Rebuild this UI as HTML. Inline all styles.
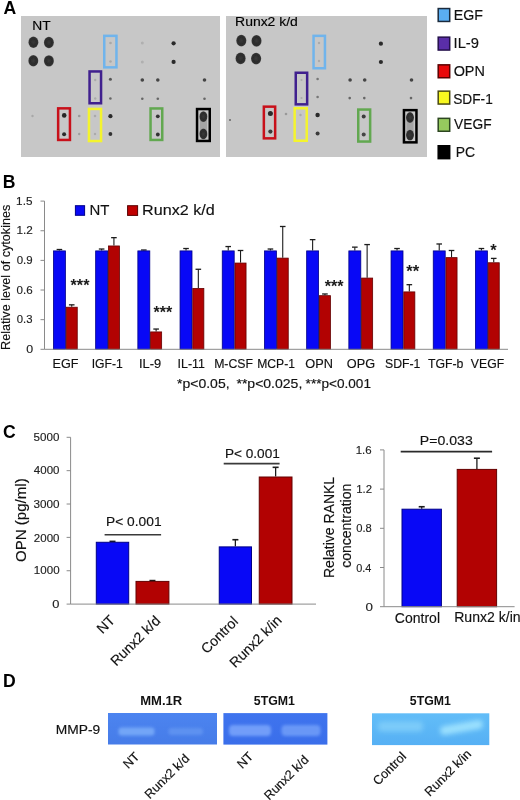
<!DOCTYPE html>
<html><head><meta charset="utf-8"><style>
html,body{margin:0;padding:0;background:#fff;}
body{width:520px;height:800px;overflow:hidden;}
svg{display:block;will-change:transform;}
text{font-family:"Liberation Sans", sans-serif;}
</style></head><body>
<svg width="520" height="800" viewBox="0 0 520 800">
<defs>
<filter id="bl" x="-50%" y="-50%" width="200%" height="200%"><feGaussianBlur stdDeviation="0.7"/></filter>
<filter id="bl2" x="-50%" y="-100%" width="200%" height="300%"><feGaussianBlur stdDeviation="1.6"/></filter>
<filter id="bl3" x="-50%" y="-100%" width="200%" height="300%"><feGaussianBlur stdDeviation="2.4"/></filter>
<radialGradient id="sg"><stop offset="0" stop-color="#3a3a3a"/><stop offset="0.55" stop-color="#2c2c2c"/><stop offset="0.85" stop-color="#303030"/><stop offset="1" stop-color="#555"/></radialGradient>
<linearGradient id="g1" x1="0" y1="0" x2="0" y2="1"><stop offset="0" stop-color="#4c84f0"/><stop offset="1" stop-color="#467ce8"/></linearGradient>
<linearGradient id="g2" x1="0" y1="0" x2="0" y2="1"><stop offset="0" stop-color="#3f74ee"/><stop offset="1" stop-color="#3a6eea"/></linearGradient>
<linearGradient id="g3" x1="0" y1="0" x2="0" y2="1"><stop offset="0" stop-color="#62bdf8"/><stop offset="1" stop-color="#56b0f4"/></linearGradient>
</defs>
<rect width="520" height="800" fill="#fff"/>
<text x="3.49" y="13.90" font-size="17.60" text-anchor="start" font-weight="bold" fill="#000" xml:space="preserve">A</text>
<rect x="21" y="16" width="199" height="141" fill="#c7c7c7"/>
<rect x="226" y="16" width="201" height="141" fill="#c7c7c7"/>
<text x="32.24" y="29.64" font-size="13.20" text-anchor="start" font-weight="normal" fill="#000" stroke="#000" stroke-width="0.15" textLength="18.38" lengthAdjust="spacingAndGlyphs" xml:space="preserve">NT</text>
<text x="235.07" y="26.06" font-size="13.20" text-anchor="start" font-weight="normal" fill="#000" stroke="#000" stroke-width="0.15" textLength="62.79" lengthAdjust="spacingAndGlyphs" xml:space="preserve">Runx2 k/d</text>
<ellipse cx="33.4" cy="42.3" rx="5.0" ry="5.7" fill="url(#sg)" filter="url(#bl)"/>
<ellipse cx="48.9" cy="42.5" rx="5.0" ry="5.7" fill="url(#sg)" filter="url(#bl)"/>
<ellipse cx="33.3" cy="60.8" rx="5.0" ry="5.7" fill="url(#sg)" filter="url(#bl)"/>
<ellipse cx="48.9" cy="60.9" rx="5.0" ry="5.7" fill="url(#sg)" filter="url(#bl)"/>
<ellipse cx="241.3" cy="40.6" rx="5.1" ry="5.9" fill="url(#sg)" filter="url(#bl)"/>
<ellipse cx="256.5" cy="40.8" rx="5.1" ry="5.9" fill="url(#sg)" filter="url(#bl)"/>
<ellipse cx="240.6" cy="58.3" rx="5.1" ry="5.9" fill="url(#sg)" filter="url(#bl)"/>
<ellipse cx="256.1" cy="58.6" rx="5.1" ry="5.9" fill="url(#sg)" filter="url(#bl)"/>
<rect x="199.8" y="116.6" width="7.2" height="17.30000000000001" fill="#a6a6a6" filter="url(#bl)"/>
<ellipse cx="203.4" cy="116.6" rx="4.0" ry="5.4" fill="url(#sg)" filter="url(#bl)"/>
<ellipse cx="203.4" cy="133.9" rx="4.0" ry="5.4" fill="url(#sg)" filter="url(#bl)"/>
<rect x="406.4" y="117.5" width="7.2" height="17.599999999999994" fill="#a6a6a6" filter="url(#bl)"/>
<ellipse cx="410" cy="117.5" rx="4.0" ry="5.4" fill="url(#sg)" filter="url(#bl)"/>
<ellipse cx="410" cy="135.1" rx="4.0" ry="5.4" fill="url(#sg)" filter="url(#bl)"/>
<ellipse cx="64.2" cy="115.4" rx="2.3" ry="2.3" fill="#262626" opacity="1" filter="url(#bl)"/>
<ellipse cx="64.1" cy="134.2" rx="2.0" ry="2.0" fill="#2a2a2a" opacity="1" filter="url(#bl)"/>
<ellipse cx="157.8" cy="116.3" rx="1.9" ry="1.9" fill="#333" opacity="1" filter="url(#bl)"/>
<ellipse cx="157.8" cy="134.5" rx="1.9" ry="1.9" fill="#333" opacity="1" filter="url(#bl)"/>
<ellipse cx="110.4" cy="79.2" rx="1.5" ry="1.5" fill="#555" opacity="1" filter="url(#bl)"/>
<ellipse cx="110.4" cy="98.5" rx="1.3" ry="1.3" fill="#666" opacity="1" filter="url(#bl)"/>
<ellipse cx="110.4" cy="116.2" rx="2.1" ry="2.1" fill="#2a2a2a" opacity="1" filter="url(#bl)"/>
<ellipse cx="110.4" cy="134" rx="1.9" ry="1.9" fill="#333" opacity="1" filter="url(#bl)"/>
<ellipse cx="173.6" cy="43.3" rx="2.1" ry="2.1" fill="#2a2a2a" opacity="1" filter="url(#bl)"/>
<ellipse cx="173.6" cy="61.9" rx="2.1" ry="2.1" fill="#2a2a2a" opacity="1" filter="url(#bl)"/>
<ellipse cx="142.3" cy="80" rx="1.8" ry="1.8" fill="#444" opacity="1" filter="url(#bl)"/>
<ellipse cx="157.8" cy="80" rx="1.8" ry="1.8" fill="#444" opacity="1" filter="url(#bl)"/>
<ellipse cx="204.5" cy="80" rx="1.8" ry="1.8" fill="#444" opacity="1" filter="url(#bl)"/>
<ellipse cx="142.3" cy="98.7" rx="1.3" ry="1.3" fill="#666" opacity="1" filter="url(#bl)"/>
<ellipse cx="157.8" cy="98.7" rx="1.3" ry="1.3" fill="#666" opacity="1" filter="url(#bl)"/>
<ellipse cx="204.5" cy="98.7" rx="1.3" ry="1.3" fill="#666" opacity="1" filter="url(#bl)"/>
<ellipse cx="79.2" cy="116" rx="1.3" ry="1.3" fill="#9a9a9a" opacity="1" filter="url(#bl)"/>
<ellipse cx="79.2" cy="134" rx="1.2" ry="1.2" fill="#a0a0a0" opacity="1" filter="url(#bl)"/>
<ellipse cx="32.5" cy="116" rx="1.2" ry="1.2" fill="#a8a8a8" opacity="1" filter="url(#bl)"/>
<ellipse cx="142.3" cy="43" rx="1.5" ry="1.5" fill="#b0b0b0" opacity="1" filter="url(#bl)"/>
<ellipse cx="142.3" cy="62" rx="1.5" ry="1.5" fill="#b0b0b0" opacity="1" filter="url(#bl)"/>
<ellipse cx="110.5" cy="43" rx="1.3" ry="1.3" fill="#a8a8a8" opacity="1" filter="url(#bl)"/>
<ellipse cx="110.5" cy="61.5" rx="1.3" ry="1.3" fill="#a8a8a8" opacity="1" filter="url(#bl)"/>
<ellipse cx="95.2" cy="80" rx="1.2" ry="1.2" fill="#aaa" opacity="1" filter="url(#bl)"/>
<ellipse cx="95.2" cy="98.5" rx="1.2" ry="1.2" fill="#aaa" opacity="1" filter="url(#bl)"/>
<ellipse cx="95" cy="116" rx="1.3" ry="1.3" fill="#aaa" opacity="1" filter="url(#bl)"/>
<ellipse cx="95" cy="134" rx="1.2" ry="1.2" fill="#aaa" opacity="1" filter="url(#bl)"/>
<ellipse cx="270.4" cy="113.6" rx="2.5" ry="2.5" fill="#2a2a2a" opacity="1" filter="url(#bl)"/>
<ellipse cx="270.4" cy="131.6" rx="2.1" ry="2.1" fill="#3a3a3a" opacity="1" filter="url(#bl)"/>
<ellipse cx="363.7" cy="116.6" rx="2" ry="2" fill="#3a3a3a" opacity="1" filter="url(#bl)"/>
<ellipse cx="363.7" cy="134.5" rx="2" ry="2" fill="#444" opacity="1" filter="url(#bl)"/>
<ellipse cx="317.6" cy="79" rx="1.3" ry="1.3" fill="#777" opacity="1" filter="url(#bl)"/>
<ellipse cx="317.6" cy="97" rx="1.3" ry="1.3" fill="#777" opacity="1" filter="url(#bl)"/>
<ellipse cx="317.6" cy="115" rx="2.2" ry="2.2" fill="#2a2a2a" opacity="1" filter="url(#bl)"/>
<ellipse cx="317.6" cy="133.4" rx="2" ry="2" fill="#3a3a3a" opacity="1" filter="url(#bl)"/>
<ellipse cx="286" cy="114" rx="1.3" ry="1.3" fill="#999" opacity="1" filter="url(#bl)"/>
<ellipse cx="230" cy="120" rx="1" ry="1" fill="#666" opacity="1" filter="url(#bl)"/>
<ellipse cx="380.9" cy="43.7" rx="2.1" ry="2.1" fill="#2a2a2a" opacity="1" filter="url(#bl)"/>
<ellipse cx="380.9" cy="62" rx="2.1" ry="2.1" fill="#2a2a2a" opacity="1" filter="url(#bl)"/>
<ellipse cx="350.1" cy="80" rx="1.8" ry="1.8" fill="#444" opacity="1" filter="url(#bl)"/>
<ellipse cx="364.7" cy="80" rx="1.8" ry="1.8" fill="#444" opacity="1" filter="url(#bl)"/>
<ellipse cx="411.5" cy="80" rx="1.8" ry="1.8" fill="#444" opacity="1" filter="url(#bl)"/>
<ellipse cx="349.7" cy="98.1" rx="1.3" ry="1.3" fill="#666" opacity="1" filter="url(#bl)"/>
<ellipse cx="364.3" cy="98.1" rx="1.3" ry="1.3" fill="#666" opacity="1" filter="url(#bl)"/>
<ellipse cx="411" cy="98.1" rx="1.3" ry="1.3" fill="#666" opacity="1" filter="url(#bl)"/>
<ellipse cx="319" cy="43" rx="1.2" ry="1.2" fill="#aaa" opacity="1" filter="url(#bl)"/>
<ellipse cx="319" cy="61" rx="1.2" ry="1.2" fill="#aaa" opacity="1" filter="url(#bl)"/>
<ellipse cx="301.5" cy="80" rx="1.1" ry="1.1" fill="#aaa" opacity="1" filter="url(#bl)"/>
<ellipse cx="301.5" cy="98" rx="1.1" ry="1.1" fill="#aaa" opacity="1" filter="url(#bl)"/>
<ellipse cx="300.5" cy="115" rx="1.2" ry="1.2" fill="#aaa" opacity="1" filter="url(#bl)"/>
<rect x="104.25" y="35.85" width="12.20" height="31.50" fill="none" stroke="#70b4ec" stroke-width="2.5"/>
<rect x="89.55" y="71.45" width="11.50" height="31.80" fill="none" stroke="#40208e" stroke-width="2.5"/>
<rect x="58.15" y="108.35" width="11.80" height="31.60" fill="none" stroke="#c8101a" stroke-width="2.5"/>
<rect x="88.95" y="108.95" width="12.10" height="32.10" fill="none" stroke="#f4f42e" stroke-width="2.5"/>
<rect x="150.55" y="108.45" width="11.70" height="31.50" fill="none" stroke="#62a850" stroke-width="2.5"/>
<rect x="197.05" y="109.05" width="12.70" height="31.90" fill="none" stroke="#000" stroke-width="2.5"/>
<rect x="313.55" y="35.85" width="11.40" height="32.40" fill="none" stroke="#70b4ec" stroke-width="2.5"/>
<rect x="295.75" y="72.75" width="11.40" height="31.60" fill="none" stroke="#40208e" stroke-width="2.5"/>
<rect x="263.85" y="106.65" width="11.30" height="31.70" fill="none" stroke="#c8101a" stroke-width="2.5"/>
<rect x="294.65" y="108.25" width="12.10" height="32.50" fill="none" stroke="#f4f42e" stroke-width="2.5"/>
<rect x="358.25" y="109.55" width="11.90" height="32.00" fill="none" stroke="#62a850" stroke-width="2.5"/>
<rect x="403.95" y="110.15" width="12.50" height="32.20" fill="none" stroke="#000" stroke-width="2.5"/>
<rect x="438.2" y="8.55" width="11.5" height="12.9" fill="#5aaef2" stroke="#1a2a3c" stroke-width="1.5"/>
<text x="453.77" y="20.39" font-size="14.20" text-anchor="start" font-weight="normal" fill="#111" stroke="#111" stroke-width="0.15" textLength="29.16" lengthAdjust="spacingAndGlyphs" xml:space="preserve">EGF</text>
<rect x="438.2" y="37.15" width="11.5" height="12.9" fill="#5a2ea8" stroke="#24104a" stroke-width="1.5"/>
<text x="453.54" y="47.71" font-size="14.20" text-anchor="start" font-weight="normal" fill="#111" stroke="#111" stroke-width="0.15" textLength="25.41" lengthAdjust="spacingAndGlyphs" xml:space="preserve">IL-9</text>
<rect x="438.2" y="64.85" width="11.5" height="12.9" fill="#e8080a" stroke="#5a0000" stroke-width="1.5"/>
<text x="453.65" y="75.81" font-size="14.20" text-anchor="start" font-weight="normal" fill="#111" stroke="#111" stroke-width="0.15" textLength="31.27" lengthAdjust="spacingAndGlyphs" xml:space="preserve">OPN</text>
<rect x="438.2" y="91.15" width="11.5" height="12.9" fill="#f8f820" stroke="#4a4a10" stroke-width="1.5"/>
<text x="453.24" y="103.72" font-size="14.20" text-anchor="start" font-weight="normal" fill="#111" stroke="#111" stroke-width="0.15" textLength="39.55" lengthAdjust="spacingAndGlyphs" xml:space="preserve">SDF-1</text>
<rect x="438.2" y="118.35" width="11.5" height="12.9" fill="#96ca5e" stroke="#2c4620" stroke-width="1.5"/>
<text x="454.09" y="129.12" font-size="14.20" text-anchor="start" font-weight="normal" fill="#111" stroke="#111" stroke-width="0.15" textLength="37.52" lengthAdjust="spacingAndGlyphs" xml:space="preserve">VEGF</text>
<rect x="438.2" y="145.75" width="11.5" height="12.9" fill="#000" stroke="#000" stroke-width="1.5"/>
<text x="455.65" y="156.71" font-size="14.20" text-anchor="start" font-weight="normal" fill="#111" stroke="#111" stroke-width="0.15" textLength="19.40" lengthAdjust="spacingAndGlyphs" xml:space="preserve">PC</text>
<text x="2.64" y="187.75" font-size="17.60" text-anchor="start" font-weight="bold" fill="#000" xml:space="preserve">B</text>
<line x1="44.5" y1="201.10" x2="44.5" y2="349.30" stroke="#8a8a8a" stroke-width="1"/>
<line x1="40.5" y1="349.30" x2="44.5" y2="349.30" stroke="#8a8a8a" stroke-width="1"/>
<text x="33.18" y="352.84" font-size="11.50" text-anchor="end" font-weight="normal" fill="#222" stroke="#222" stroke-width="0.15" textLength="6.89" lengthAdjust="spacingAndGlyphs" xml:space="preserve">0</text>
<line x1="40.5" y1="319.66" x2="44.5" y2="319.66" stroke="#8a8a8a" stroke-width="1"/>
<text x="32.55" y="323.17" font-size="11.50" text-anchor="end" font-weight="normal" fill="#222" stroke="#222" stroke-width="0.15" textLength="15.74" lengthAdjust="spacingAndGlyphs" xml:space="preserve">0.3</text>
<line x1="40.5" y1="290.02" x2="44.5" y2="290.02" stroke="#8a8a8a" stroke-width="1"/>
<text x="32.66" y="294.05" font-size="11.50" text-anchor="end" font-weight="normal" fill="#222" stroke="#222" stroke-width="0.15" textLength="16.11" lengthAdjust="spacingAndGlyphs" xml:space="preserve">0.6</text>
<line x1="40.5" y1="260.38" x2="44.5" y2="260.38" stroke="#8a8a8a" stroke-width="1"/>
<text x="32.68" y="264.25" font-size="11.50" text-anchor="end" font-weight="normal" fill="#222" stroke="#222" stroke-width="0.15" textLength="15.93" lengthAdjust="spacingAndGlyphs" xml:space="preserve">0.9</text>
<line x1="40.5" y1="230.74" x2="44.5" y2="230.74" stroke="#8a8a8a" stroke-width="1"/>
<text x="32.83" y="234.48" font-size="11.50" text-anchor="end" font-weight="normal" fill="#222" stroke="#222" stroke-width="0.15" textLength="16.33" lengthAdjust="spacingAndGlyphs" xml:space="preserve">1.2</text>
<line x1="40.5" y1="201.10" x2="44.5" y2="201.10" stroke="#8a8a8a" stroke-width="1"/>
<text x="32.46" y="204.92" font-size="11.50" text-anchor="end" font-weight="normal" fill="#222" stroke="#222" stroke-width="0.15" textLength="16.33" lengthAdjust="spacingAndGlyphs" xml:space="preserve">1.5</text>
<text x="9.89" y="349.87" font-size="12.40" text-anchor="start" font-weight="normal" fill="#111" stroke="#111" stroke-width="0.15" textLength="145.17" lengthAdjust="spacingAndGlyphs" transform="rotate(-90 9.89 349.87)" xml:space="preserve">Relative level of cytokines</text>
<rect x="75.4" y="205.7" width="9.2" height="9.6" fill="#0808f6" stroke="#000088" stroke-width="1"/>
<text x="89.53" y="214.88" font-size="14.80" text-anchor="start" font-weight="normal" fill="#111" stroke="#111" stroke-width="0.15" textLength="19.90" lengthAdjust="spacingAndGlyphs" xml:space="preserve">NT</text>
<rect x="127.6" y="205.7" width="10" height="9.7" fill="#c00000" stroke="#580000" stroke-width="1"/>
<text x="142.13" y="215.46" font-size="14.80" text-anchor="start" font-weight="normal" fill="#111" stroke="#111" stroke-width="0.15" textLength="72.68" lengthAdjust="spacingAndGlyphs" xml:space="preserve">Runx2 k/d</text>
<line x1="59.42" y1="250.50" x2="59.42" y2="249.51" stroke="#1c1c1c" stroke-width="1.1"/>
<line x1="56.62" y1="249.51" x2="62.22" y2="249.51" stroke="#1c1c1c" stroke-width="1.3"/>
<line x1="71.72" y1="306.82" x2="71.72" y2="304.84" stroke="#1c1c1c" stroke-width="1.1"/>
<line x1="68.92" y1="304.84" x2="74.52" y2="304.84" stroke="#1c1c1c" stroke-width="1.3"/>
<rect x="53.45" y="250.90" width="11.95" height="98.40" fill="#0808f6" stroke="#000088" stroke-width="0.8"/>
<rect x="66.20" y="307.22" width="11.05" height="42.08" fill="#b20202" stroke="#640000" stroke-width="0.8"/>
<text x="52.58" y="368.31" font-size="12.40" text-anchor="start" font-weight="normal" fill="#111" stroke="#111" stroke-width="0.15" textLength="25.92" lengthAdjust="spacingAndGlyphs" xml:space="preserve">EGF</text>
<line x1="101.62" y1="250.50" x2="101.62" y2="249.02" stroke="#1c1c1c" stroke-width="1.1"/>
<line x1="98.83" y1="249.02" x2="104.42" y2="249.02" stroke="#1c1c1c" stroke-width="1.3"/>
<line x1="113.92" y1="245.56" x2="113.92" y2="237.66" stroke="#1c1c1c" stroke-width="1.1"/>
<line x1="111.12" y1="237.66" x2="116.72" y2="237.66" stroke="#1c1c1c" stroke-width="1.3"/>
<rect x="95.65" y="250.90" width="11.95" height="98.40" fill="#0808f6" stroke="#000088" stroke-width="0.8"/>
<rect x="108.40" y="245.96" width="11.05" height="103.34" fill="#b20202" stroke="#640000" stroke-width="0.8"/>
<text x="91.69" y="368.31" font-size="12.40" text-anchor="start" font-weight="normal" fill="#111" stroke="#111" stroke-width="0.15" textLength="31.15" lengthAdjust="spacingAndGlyphs" xml:space="preserve">IGF-1</text>
<line x1="143.82" y1="250.50" x2="143.82" y2="250.01" stroke="#1c1c1c" stroke-width="1.1"/>
<line x1="141.02" y1="250.01" x2="146.62" y2="250.01" stroke="#1c1c1c" stroke-width="1.3"/>
<line x1="156.12" y1="331.52" x2="156.12" y2="329.05" stroke="#1c1c1c" stroke-width="1.1"/>
<line x1="153.32" y1="329.05" x2="158.93" y2="329.05" stroke="#1c1c1c" stroke-width="1.3"/>
<rect x="137.85" y="250.90" width="11.95" height="98.40" fill="#0808f6" stroke="#000088" stroke-width="0.8"/>
<rect x="150.60" y="331.92" width="11.05" height="17.38" fill="#b20202" stroke="#640000" stroke-width="0.8"/>
<text x="138.92" y="368.31" font-size="12.40" text-anchor="start" font-weight="normal" fill="#111" stroke="#111" stroke-width="0.15" textLength="22.17" lengthAdjust="spacingAndGlyphs" xml:space="preserve">IL-9</text>
<line x1="186.03" y1="250.50" x2="186.03" y2="248.52" stroke="#1c1c1c" stroke-width="1.1"/>
<line x1="183.22" y1="248.52" x2="188.83" y2="248.52" stroke="#1c1c1c" stroke-width="1.3"/>
<line x1="198.33" y1="288.04" x2="198.33" y2="269.27" stroke="#1c1c1c" stroke-width="1.1"/>
<line x1="195.53" y1="269.27" x2="201.13" y2="269.27" stroke="#1c1c1c" stroke-width="1.3"/>
<rect x="180.05" y="250.90" width="11.95" height="98.40" fill="#0808f6" stroke="#000088" stroke-width="0.8"/>
<rect x="192.80" y="288.44" width="11.05" height="60.86" fill="#b20202" stroke="#640000" stroke-width="0.8"/>
<text x="177.59" y="368.31" font-size="12.40" text-anchor="start" font-weight="normal" fill="#111" stroke="#111" stroke-width="0.15" textLength="27.37" lengthAdjust="spacingAndGlyphs" xml:space="preserve">IL-11</text>
<line x1="228.23" y1="250.50" x2="228.23" y2="246.55" stroke="#1c1c1c" stroke-width="1.1"/>
<line x1="225.43" y1="246.55" x2="231.03" y2="246.55" stroke="#1c1c1c" stroke-width="1.3"/>
<line x1="240.53" y1="262.65" x2="240.53" y2="250.50" stroke="#1c1c1c" stroke-width="1.1"/>
<line x1="237.73" y1="250.50" x2="243.33" y2="250.50" stroke="#1c1c1c" stroke-width="1.3"/>
<rect x="222.25" y="250.90" width="11.95" height="98.40" fill="#0808f6" stroke="#000088" stroke-width="0.8"/>
<rect x="235.00" y="263.05" width="11.05" height="86.25" fill="#b20202" stroke="#640000" stroke-width="0.8"/>
<text x="214.14" y="368.31" font-size="12.40" text-anchor="start" font-weight="normal" fill="#111" stroke="#111" stroke-width="0.15" textLength="38.88" lengthAdjust="spacingAndGlyphs" xml:space="preserve">M-CSF</text>
<line x1="270.43" y1="250.50" x2="270.43" y2="249.02" stroke="#1c1c1c" stroke-width="1.1"/>
<line x1="267.62" y1="249.02" x2="273.23" y2="249.02" stroke="#1c1c1c" stroke-width="1.3"/>
<line x1="282.73" y1="257.71" x2="282.73" y2="226.49" stroke="#1c1c1c" stroke-width="1.1"/>
<line x1="279.93" y1="226.49" x2="285.53" y2="226.49" stroke="#1c1c1c" stroke-width="1.3"/>
<rect x="264.45" y="250.90" width="11.95" height="98.40" fill="#0808f6" stroke="#000088" stroke-width="0.8"/>
<rect x="277.20" y="258.11" width="11.05" height="91.19" fill="#b20202" stroke="#640000" stroke-width="0.8"/>
<text x="257.26" y="368.31" font-size="12.40" text-anchor="start" font-weight="normal" fill="#111" stroke="#111" stroke-width="0.15" textLength="37.70" lengthAdjust="spacingAndGlyphs" xml:space="preserve">MCP-1</text>
<line x1="312.62" y1="250.50" x2="312.62" y2="239.63" stroke="#1c1c1c" stroke-width="1.1"/>
<line x1="309.82" y1="239.63" x2="315.43" y2="239.63" stroke="#1c1c1c" stroke-width="1.3"/>
<line x1="324.93" y1="295.26" x2="324.93" y2="293.97" stroke="#1c1c1c" stroke-width="1.1"/>
<line x1="322.12" y1="293.97" x2="327.73" y2="293.97" stroke="#1c1c1c" stroke-width="1.3"/>
<rect x="306.65" y="250.90" width="11.95" height="98.40" fill="#0808f6" stroke="#000088" stroke-width="0.8"/>
<rect x="319.40" y="295.66" width="11.05" height="53.64" fill="#b20202" stroke="#640000" stroke-width="0.8"/>
<text x="305.28" y="368.31" font-size="12.40" text-anchor="start" font-weight="normal" fill="#111" stroke="#111" stroke-width="0.15" textLength="27.61" lengthAdjust="spacingAndGlyphs" xml:space="preserve">OPN</text>
<line x1="354.83" y1="250.50" x2="354.83" y2="247.14" stroke="#1c1c1c" stroke-width="1.1"/>
<line x1="352.03" y1="247.14" x2="357.63" y2="247.14" stroke="#1c1c1c" stroke-width="1.3"/>
<line x1="367.13" y1="277.67" x2="367.13" y2="244.57" stroke="#1c1c1c" stroke-width="1.1"/>
<line x1="364.33" y1="244.57" x2="369.93" y2="244.57" stroke="#1c1c1c" stroke-width="1.3"/>
<rect x="348.85" y="250.90" width="11.95" height="98.40" fill="#0808f6" stroke="#000088" stroke-width="0.8"/>
<rect x="361.60" y="278.07" width="11.05" height="71.23" fill="#b20202" stroke="#640000" stroke-width="0.8"/>
<text x="346.86" y="368.31" font-size="12.40" text-anchor="start" font-weight="normal" fill="#111" stroke="#111" stroke-width="0.15" textLength="28.22" lengthAdjust="spacingAndGlyphs" xml:space="preserve">OPG</text>
<line x1="397.03" y1="250.50" x2="397.03" y2="248.52" stroke="#1c1c1c" stroke-width="1.1"/>
<line x1="394.23" y1="248.52" x2="399.83" y2="248.52" stroke="#1c1c1c" stroke-width="1.3"/>
<line x1="409.33" y1="291.50" x2="409.33" y2="284.68" stroke="#1c1c1c" stroke-width="1.1"/>
<line x1="406.53" y1="284.68" x2="412.13" y2="284.68" stroke="#1c1c1c" stroke-width="1.3"/>
<rect x="391.05" y="250.90" width="11.95" height="98.40" fill="#0808f6" stroke="#000088" stroke-width="0.8"/>
<rect x="403.80" y="291.90" width="11.05" height="57.40" fill="#b20202" stroke="#640000" stroke-width="0.8"/>
<text x="385.03" y="368.31" font-size="12.40" text-anchor="start" font-weight="normal" fill="#111" stroke="#111" stroke-width="0.15" textLength="35.42" lengthAdjust="spacingAndGlyphs" xml:space="preserve">SDF-1</text>
<line x1="439.23" y1="250.50" x2="439.23" y2="243.98" stroke="#1c1c1c" stroke-width="1.1"/>
<line x1="436.43" y1="243.98" x2="442.03" y2="243.98" stroke="#1c1c1c" stroke-width="1.3"/>
<line x1="451.53" y1="257.22" x2="451.53" y2="250.50" stroke="#1c1c1c" stroke-width="1.1"/>
<line x1="448.73" y1="250.50" x2="454.33" y2="250.50" stroke="#1c1c1c" stroke-width="1.3"/>
<rect x="433.25" y="250.90" width="11.95" height="98.40" fill="#0808f6" stroke="#000088" stroke-width="0.8"/>
<rect x="446.00" y="257.62" width="11.05" height="91.68" fill="#b20202" stroke="#640000" stroke-width="0.8"/>
<text x="428.02" y="368.31" font-size="12.40" text-anchor="start" font-weight="normal" fill="#111" stroke="#111" stroke-width="0.15" textLength="35.43" lengthAdjust="spacingAndGlyphs" xml:space="preserve">TGF-b</text>
<line x1="481.43" y1="250.50" x2="481.43" y2="248.52" stroke="#1c1c1c" stroke-width="1.1"/>
<line x1="478.62" y1="248.52" x2="484.23" y2="248.52" stroke="#1c1c1c" stroke-width="1.3"/>
<line x1="493.73" y1="262.36" x2="493.73" y2="258.40" stroke="#1c1c1c" stroke-width="1.1"/>
<line x1="490.93" y1="258.40" x2="496.53" y2="258.40" stroke="#1c1c1c" stroke-width="1.3"/>
<rect x="475.45" y="250.90" width="11.95" height="98.40" fill="#0808f6" stroke="#000088" stroke-width="0.8"/>
<rect x="488.20" y="262.76" width="11.05" height="86.54" fill="#b20202" stroke="#640000" stroke-width="0.8"/>
<text x="470.86" y="368.31" font-size="12.40" text-anchor="start" font-weight="normal" fill="#111" stroke="#111" stroke-width="0.15" textLength="33.27" lengthAdjust="spacingAndGlyphs" xml:space="preserve">VEGF</text>
<line x1="44.5" y1="349.30" x2="508" y2="349.30" stroke="#8a8a8a" stroke-width="1"/>
<text x="70.56" y="291.19" font-size="16.51" text-anchor="start" font-weight="bold" fill="#1a1a1a" textLength="18.91" lengthAdjust="spacingAndGlyphs" xml:space="preserve">***</text>
<text x="153.53" y="318.23" font-size="16.51" text-anchor="start" font-weight="bold" fill="#1a1a1a" textLength="18.74" lengthAdjust="spacingAndGlyphs" xml:space="preserve">***</text>
<text x="324.82" y="292.16" font-size="16.51" text-anchor="start" font-weight="bold" fill="#1a1a1a" textLength="18.84" lengthAdjust="spacingAndGlyphs" xml:space="preserve">***</text>
<text x="406.18" y="276.51" font-size="16.51" text-anchor="start" font-weight="bold" fill="#1a1a1a" textLength="12.93" lengthAdjust="spacingAndGlyphs" xml:space="preserve">**</text>
<text x="490.29" y="256.33" font-size="16.51" text-anchor="start" font-weight="bold" fill="#1a1a1a" xml:space="preserve">*</text>
<text x="177.06" y="387.73" font-size="12.40" text-anchor="start" font-weight="normal" fill="#111" stroke="#111" stroke-width="0.15" textLength="52.51" lengthAdjust="spacingAndGlyphs" xml:space="preserve">*p&lt;0.05,</text>
<text x="236.43" y="387.99" font-size="12.40" text-anchor="start" font-weight="normal" fill="#111" stroke="#111" stroke-width="0.15" textLength="65.90" lengthAdjust="spacingAndGlyphs" xml:space="preserve">**p&lt;0.025,</text>
<text x="305.60" y="388.09" font-size="12.40" text-anchor="start" font-weight="normal" fill="#111" stroke="#111" stroke-width="0.15" textLength="65.37" lengthAdjust="spacingAndGlyphs" xml:space="preserve">***p&lt;0.001</text>
<text x="3.12" y="438.13" font-size="17.60" text-anchor="start" font-weight="bold" fill="#000" xml:space="preserve">C</text>
<line x1="70.6" y1="437.30" x2="70.6" y2="604.10" stroke="#8a8a8a" stroke-width="1"/>
<line x1="66.6" y1="604.10" x2="70.6" y2="604.10" stroke="#8a8a8a" stroke-width="1"/>
<text x="59.35" y="607.91" font-size="10.90" text-anchor="end" font-weight="normal" fill="#222" stroke="#222" stroke-width="0.15" textLength="7.15" lengthAdjust="spacingAndGlyphs" xml:space="preserve">0</text>
<line x1="66.6" y1="570.74" x2="70.6" y2="570.74" stroke="#8a8a8a" stroke-width="1"/>
<text x="59.61" y="574.40" font-size="10.90" text-anchor="end" font-weight="normal" fill="#222" stroke="#222" stroke-width="0.15" textLength="25.72" lengthAdjust="spacingAndGlyphs" xml:space="preserve">1000</text>
<line x1="66.6" y1="537.38" x2="70.6" y2="537.38" stroke="#8a8a8a" stroke-width="1"/>
<text x="59.43" y="541.70" font-size="10.90" text-anchor="end" font-weight="normal" fill="#222" stroke="#222" stroke-width="0.15" textLength="25.56" lengthAdjust="spacingAndGlyphs" xml:space="preserve">2000</text>
<line x1="66.6" y1="504.02" x2="70.6" y2="504.02" stroke="#8a8a8a" stroke-width="1"/>
<text x="59.47" y="508.17" font-size="10.90" text-anchor="end" font-weight="normal" fill="#222" stroke="#222" stroke-width="0.15" textLength="26.06" lengthAdjust="spacingAndGlyphs" xml:space="preserve">3000</text>
<line x1="66.6" y1="470.66" x2="70.6" y2="470.66" stroke="#8a8a8a" stroke-width="1"/>
<text x="59.48" y="474.42" font-size="10.90" text-anchor="end" font-weight="normal" fill="#222" stroke="#222" stroke-width="0.15" textLength="25.60" lengthAdjust="spacingAndGlyphs" xml:space="preserve">4000</text>
<line x1="66.6" y1="437.30" x2="70.6" y2="437.30" stroke="#8a8a8a" stroke-width="1"/>
<text x="59.43" y="441.23" font-size="10.90" text-anchor="end" font-weight="normal" fill="#222" stroke="#222" stroke-width="0.15" textLength="25.80" lengthAdjust="spacingAndGlyphs" xml:space="preserve">5000</text>
<text x="26.47" y="562.07" font-size="14.40" text-anchor="start" font-weight="normal" fill="#111" stroke="#111" stroke-width="0.15" textLength="83.74" lengthAdjust="spacingAndGlyphs" transform="rotate(-90 26.47 562.07)" xml:space="preserve">OPN (pg/ml)</text>
<line x1="112.50" y1="541.78" x2="112.50" y2="541.38" stroke="#1c1c1c" stroke-width="1.3"/>
<line x1="109.50" y1="541.38" x2="115.50" y2="541.38" stroke="#1c1c1c" stroke-width="1.6"/>
<rect x="96.30" y="542.28" width="32.40" height="61.82" fill="#0808f6" stroke="#000088" stroke-width="1"/>
<line x1="152.45" y1="580.91" x2="152.45" y2="580.58" stroke="#1c1c1c" stroke-width="1.3"/>
<line x1="149.45" y1="580.58" x2="155.45" y2="580.58" stroke="#1c1c1c" stroke-width="1.6"/>
<rect x="136.00" y="581.41" width="32.90" height="22.69" fill="#b20202" stroke="#640000" stroke-width="1"/>
<line x1="235.38" y1="546.39" x2="235.38" y2="539.72" stroke="#1c1c1c" stroke-width="1.3"/>
<line x1="232.38" y1="539.72" x2="238.38" y2="539.72" stroke="#1c1c1c" stroke-width="1.6"/>
<rect x="219.25" y="546.89" width="32.25" height="57.21" fill="#0808f6" stroke="#000088" stroke-width="1"/>
<line x1="275.62" y1="476.50" x2="275.62" y2="467.32" stroke="#1c1c1c" stroke-width="1.3"/>
<line x1="272.62" y1="467.32" x2="278.62" y2="467.32" stroke="#1c1c1c" stroke-width="1.6"/>
<rect x="259.25" y="477.00" width="32.75" height="127.10" fill="#b20202" stroke="#640000" stroke-width="1"/>
<line x1="70.6" y1="604.10" x2="316" y2="604.10" stroke="#8a8a8a" stroke-width="1"/>
<line x1="104.6" y1="534.8" x2="161.1" y2="534.8" stroke="#3a3a3a" stroke-width="1.6"/>
<text x="106.06" y="526.19" font-size="13.40" text-anchor="start" font-weight="normal" fill="#111" stroke="#111" stroke-width="0.15" textLength="55.53" lengthAdjust="spacingAndGlyphs" xml:space="preserve">P&lt; 0.001</text>
<line x1="223.7" y1="463.6" x2="279.6" y2="463.6" stroke="#3a3a3a" stroke-width="1.6"/>
<text x="224.90" y="457.87" font-size="13.40" text-anchor="start" font-weight="normal" fill="#111" stroke="#111" stroke-width="0.15" textLength="54.94" lengthAdjust="spacingAndGlyphs" xml:space="preserve">P&lt; 0.001</text>
<text x="115.97" y="621.08" font-size="14.16" text-anchor="end" font-weight="normal" fill="#111" stroke="#111" stroke-width="0.15" transform="rotate(-45 115.97 621.08)" xml:space="preserve">NT</text>
<text x="161.22" y="621.74" font-size="14.16" text-anchor="end" font-weight="normal" fill="#111" stroke="#111" stroke-width="0.15" transform="rotate(-45 161.22 621.74)" xml:space="preserve">Runx2 k/d</text>
<text x="239.05" y="622.34" font-size="14.16" text-anchor="end" font-weight="normal" fill="#111" stroke="#111" stroke-width="0.15" transform="rotate(-45 239.05 622.34)" xml:space="preserve">Control</text>
<text x="282.47" y="621.31" font-size="14.16" text-anchor="end" font-weight="normal" fill="#111" stroke="#111" stroke-width="0.15" transform="rotate(-45 282.47 621.31)" xml:space="preserve">Runx2 k/in</text>
<line x1="384.0" y1="449.90" x2="384.0" y2="606.70" stroke="#8a8a8a" stroke-width="1"/>
<line x1="380.0" y1="606.70" x2="384.0" y2="606.70" stroke="#8a8a8a" stroke-width="1"/>
<text x="372.93" y="611.04" font-size="11.50" text-anchor="end" font-weight="normal" fill="#222" stroke="#222" stroke-width="0.15" textLength="7.42" lengthAdjust="spacingAndGlyphs" xml:space="preserve">0</text>
<line x1="380.0" y1="567.50" x2="384.0" y2="567.50" stroke="#8a8a8a" stroke-width="1"/>
<text x="371.34" y="571.81" font-size="11.50" text-anchor="end" font-weight="normal" fill="#222" stroke="#222" stroke-width="0.15" textLength="15.16" lengthAdjust="spacingAndGlyphs" xml:space="preserve">0.4</text>
<line x1="380.0" y1="528.30" x2="384.0" y2="528.30" stroke="#8a8a8a" stroke-width="1"/>
<text x="371.77" y="531.95" font-size="11.50" text-anchor="end" font-weight="normal" fill="#222" stroke="#222" stroke-width="0.15" textLength="15.56" lengthAdjust="spacingAndGlyphs" xml:space="preserve">0.8</text>
<line x1="380.0" y1="489.10" x2="384.0" y2="489.10" stroke="#8a8a8a" stroke-width="1"/>
<text x="372.04" y="493.47" font-size="11.50" text-anchor="end" font-weight="normal" fill="#222" stroke="#222" stroke-width="0.15" textLength="15.84" lengthAdjust="spacingAndGlyphs" xml:space="preserve">1.2</text>
<line x1="380.0" y1="449.90" x2="384.0" y2="449.90" stroke="#8a8a8a" stroke-width="1"/>
<text x="371.66" y="454.23" font-size="11.50" text-anchor="end" font-weight="normal" fill="#222" stroke="#222" stroke-width="0.15" textLength="15.90" lengthAdjust="spacingAndGlyphs" xml:space="preserve">1.6</text>
<text x="334.23" y="578.00" font-size="14.20" text-anchor="start" font-weight="normal" fill="#111" stroke="#111" stroke-width="0.15" textLength="101.17" lengthAdjust="spacingAndGlyphs" transform="rotate(-90 334.23 578.00)" xml:space="preserve">Relative RANKL</text>
<text x="350.91" y="567.78" font-size="14.20" text-anchor="start" font-weight="normal" fill="#111" stroke="#111" stroke-width="0.15" textLength="84.06" lengthAdjust="spacingAndGlyphs" transform="rotate(-90 350.91 567.78)" xml:space="preserve">concentration</text>
<line x1="421.70" y1="508.70" x2="421.70" y2="506.74" stroke="#1c1c1c" stroke-width="1.3"/>
<line x1="418.70" y1="506.74" x2="424.70" y2="506.74" stroke="#1c1c1c" stroke-width="1.6"/>
<rect x="402.00" y="509.20" width="39.40" height="97.50" fill="#0808f6" stroke="#000088" stroke-width="1"/>
<line x1="476.90" y1="468.91" x2="476.90" y2="458.23" stroke="#1c1c1c" stroke-width="1.3"/>
<line x1="473.90" y1="458.23" x2="479.90" y2="458.23" stroke="#1c1c1c" stroke-width="1.6"/>
<rect x="457.20" y="469.41" width="39.40" height="137.29" fill="#b20202" stroke="#640000" stroke-width="1"/>
<line x1="384.0" y1="606.70" x2="514.6" y2="606.70" stroke="#8a8a8a" stroke-width="1"/>
<line x1="400.7" y1="451.6" x2="492.1" y2="451.6" stroke="#2a2a2a" stroke-width="1.6"/>
<text x="419.86" y="445.44" font-size="13.50" text-anchor="start" font-weight="normal" fill="#111" stroke="#111" stroke-width="0.15" textLength="52.86" lengthAdjust="spacingAndGlyphs" xml:space="preserve">P=0.033</text>
<text x="394.86" y="622.59" font-size="14.60" text-anchor="start" font-weight="normal" fill="#111" stroke="#111" stroke-width="0.15" textLength="45.13" lengthAdjust="spacingAndGlyphs" xml:space="preserve">Control</text>
<text x="454.19" y="622.47" font-size="14.60" text-anchor="start" font-weight="normal" fill="#111" stroke="#111" stroke-width="0.15" textLength="66.38" lengthAdjust="spacingAndGlyphs" xml:space="preserve">Runx2 k/in</text>
<text x="2.96" y="687.25" font-size="17.60" text-anchor="start" font-weight="bold" fill="#000" xml:space="preserve">D</text>
<text x="55.84" y="733.52" font-size="13.40" text-anchor="start" font-weight="normal" fill="#111" stroke="#111" stroke-width="0.15" textLength="44.43" lengthAdjust="spacingAndGlyphs" xml:space="preserve">MMP-9</text>
<text x="140.15" y="704.82" font-size="11.90" text-anchor="start" font-weight="bold" fill="#111" textLength="42.06" lengthAdjust="spacingAndGlyphs" xml:space="preserve">MM.1R</text>
<text x="253.83" y="704.80" font-size="11.90" text-anchor="start" font-weight="bold" fill="#111" textLength="41.12" lengthAdjust="spacingAndGlyphs" xml:space="preserve">5TGM1</text>
<text x="409.87" y="704.80" font-size="11.90" text-anchor="start" font-weight="bold" fill="#111" textLength="40.97" lengthAdjust="spacingAndGlyphs" xml:space="preserve">5TGM1</text>
<rect x="108" y="713" width="109" height="31.5" fill="url(#g1)"/>
<rect x="223.4" y="713.1" width="104" height="31.5" fill="url(#g2)"/>
<rect x="372" y="713.3" width="117.3" height="31.8" fill="url(#g3)"/>
<rect x="118.5" y="727.5" width="36" height="8" rx="3" fill="#76a8f8" opacity="0.95" filter="url(#bl2)"/>
<rect x="168.5" y="728" width="34.5" height="7" rx="3" fill="#6496f2" opacity="0.8" filter="url(#bl2)"/>
<rect x="229" y="725" width="42" height="11" rx="4" fill="#74a0fa" opacity="0.95" filter="url(#bl2)"/>
<rect x="281.5" y="725" width="39" height="11" rx="4" fill="#6e9cf8" opacity="0.9" filter="url(#bl2)"/>
<rect x="378" y="721.5" width="45" height="10" rx="4" fill="#84d0fa" opacity="0.8" filter="url(#bl3)"/>
<rect x="440" y="723" width="43" height="9" rx="4" fill="#9ee2fe" opacity="0.95" filter="url(#bl3)" transform="rotate(-10 461.5 727.5)"/>
<text x="140.18" y="757.43" font-size="12.67" text-anchor="end" font-weight="normal" fill="#111" stroke="#111" stroke-width="0.15" transform="rotate(-45 140.18 757.43)" xml:space="preserve">NT</text>
<text x="190.15" y="759.20" font-size="12.67" text-anchor="end" font-weight="normal" fill="#111" stroke="#111" stroke-width="0.15" transform="rotate(-45 190.15 759.20)" xml:space="preserve">Runx2 k/d</text>
<text x="254.08" y="757.24" font-size="12.67" text-anchor="end" font-weight="normal" fill="#111" stroke="#111" stroke-width="0.15" transform="rotate(-45 254.08 757.24)" xml:space="preserve">NT</text>
<text x="309.48" y="760.52" font-size="12.67" text-anchor="end" font-weight="normal" fill="#111" stroke="#111" stroke-width="0.15" transform="rotate(-45 309.48 760.52)" xml:space="preserve">Runx2 k/d</text>
<text x="406.89" y="757.21" font-size="12.67" text-anchor="end" font-weight="normal" fill="#111" stroke="#111" stroke-width="0.15" transform="rotate(-45 406.89 757.21)" xml:space="preserve">Control</text>
<text x="472.01" y="754.69" font-size="12.67" text-anchor="end" font-weight="normal" fill="#111" stroke="#111" stroke-width="0.15" transform="rotate(-45 472.01 754.69)" xml:space="preserve">Runx2 k/in</text>
</svg>
</body></html>
